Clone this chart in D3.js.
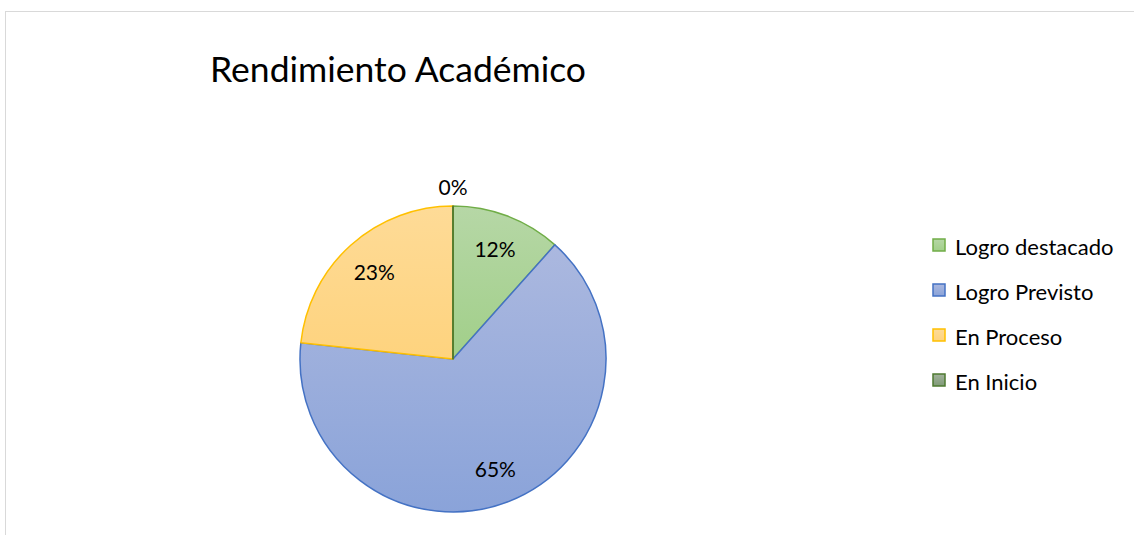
<!DOCTYPE html>
<html>
<head>
<meta charset="utf-8">
<script src="https://cdn.jsdelivr.net/npm/d3@7"></script>
<style>
  html, body { margin: 0; padding: 0; background: #fff; }
  svg { display: block; font-family: Lato, "Open Sans", sans-serif; }
</style>
</head>
<body>
<div id="chart"></div>
<script>
// chart data
const categories = ["Logro destacado", "Logro Previsto", "En Proceso", "En Inicio"];
const values = [11.6, 65.1, 23.3, 0];
const labels = ["12%", "65%", "23%", "0%"];

const fillTop = ["#b6d7a6", "#abb8df", "#fedb97", "#a2b29c"];
const fillBottom = ["#a1cf89", "#8aa3d9", "#fed37e", "#7f9a77"];
const strokes = ["#70ad47", "#4472c4", "#ffc000", "#4e7a31"];

const width = 1134, height = 535;
const cx = 453, cy = 359, radius = 153;

const svg = d3.select("#chart").append("svg")
  .attr("width", width).attr("height", height);

// chart area frame
svg.append("rect")
  .attr("x", 5.5).attr("y", 11.5)
  .attr("width", width + 10).attr("height", height + 10)
  .attr("fill", "#fff").attr("stroke", "#d9d9d9");

const defs = svg.append("defs");
categories.forEach(function(c, i) {
  const g = defs.append("linearGradient")
    .attr("id", "grad" + i)
    .attr("x1", 0).attr("y1", 0).attr("x2", 0).attr("y2", 1);
  g.append("stop").attr("offset", "0%").attr("stop-color", fillTop[i]);
  g.append("stop").attr("offset", "100%").attr("stop-color", fillBottom[i]);
});

svg.append("text")
  .attr("x", 210).attr("y", 82)
  .attr("font-size", 35.5)
  .attr("fill", "#000")
  .text("Rendimiento Académico");

const pie = d3.pie().sort(null).value(function(d) { return d; });
const arcs = pie(values);
const arc = d3.arc().innerRadius(0).outerRadius(radius);

const g = svg.append("g").attr("transform", "translate(" + cx + "," + cy + ")");

g.selectAll("path.slice")
  .data(arcs)
  .enter()
  .append("path")
  .attr("class", "slice")
  .attr("d", arc)
  .attr("fill", function(d, i) { return "url(#grad" + i + ")"; })
  .attr("stroke", function(d, i) { return strokes[i]; })
  .attr("stroke-width", 1.5)
  .attr("stroke-linejoin", "round");

// zero slice draws only as a line at the top
arcs.forEach(function(d, i) {
  if (d.endAngle - d.startAngle === 0) {
    g.append("line")
      .attr("x1", 0).attr("y1", 0)
      .attr("x2", radius * Math.sin(d.startAngle))
      .attr("y2", -radius * Math.cos(d.startAngle))
      .attr("stroke", strokes[i]).attr("stroke-width", 1.5);
  }
});

// data labels
const labelArc = d3.arc().innerRadius(radius * 0.77).outerRadius(radius * 0.77);
g.selectAll("text.lbl")
  .data(arcs)
  .enter()
  .append("text")
  .attr("class", "lbl")
  .attr("text-anchor", "middle")
  .attr("dominant-baseline", "central")
  .attr("font-size", 21)
  .attr("fill", "#000")
  .attr("transform", function(d) {
    if (d.endAngle - d.startAngle === 0) {
      return "translate(" + (radius + 20) * Math.sin(d.startAngle) + "," + (-(radius + 20) * Math.cos(d.startAngle)) + ")";
    }
    const c = labelArc.centroid(d);
    return "translate(" + c[0] + "," + c[1] + ")";
  })
  .text(function(d, i) { return labels[i]; });

// legend
const legend = svg.append("g").attr("transform", "translate(933,239)");
const row = legend.selectAll("g")
  .data(categories)
  .enter()
  .append("g")
  .attr("transform", function(d, i) { return "translate(0," + i * 45 + ")"; });
row.append("rect")
  .attr("width", 12).attr("height", 12)
  .attr("fill", function(d, i) { return "url(#grad" + i + ")"; })
  .attr("stroke", function(d, i) { return strokes[i]; })
  .attr("stroke-width", 1.5);
row.append("text")
  .attr("x", 22).attr("y", 16)
  .attr("font-size", 22)
  .attr("fill", "#000")
  .text(function(d) { return d; });
</script>
</body>
</html>
